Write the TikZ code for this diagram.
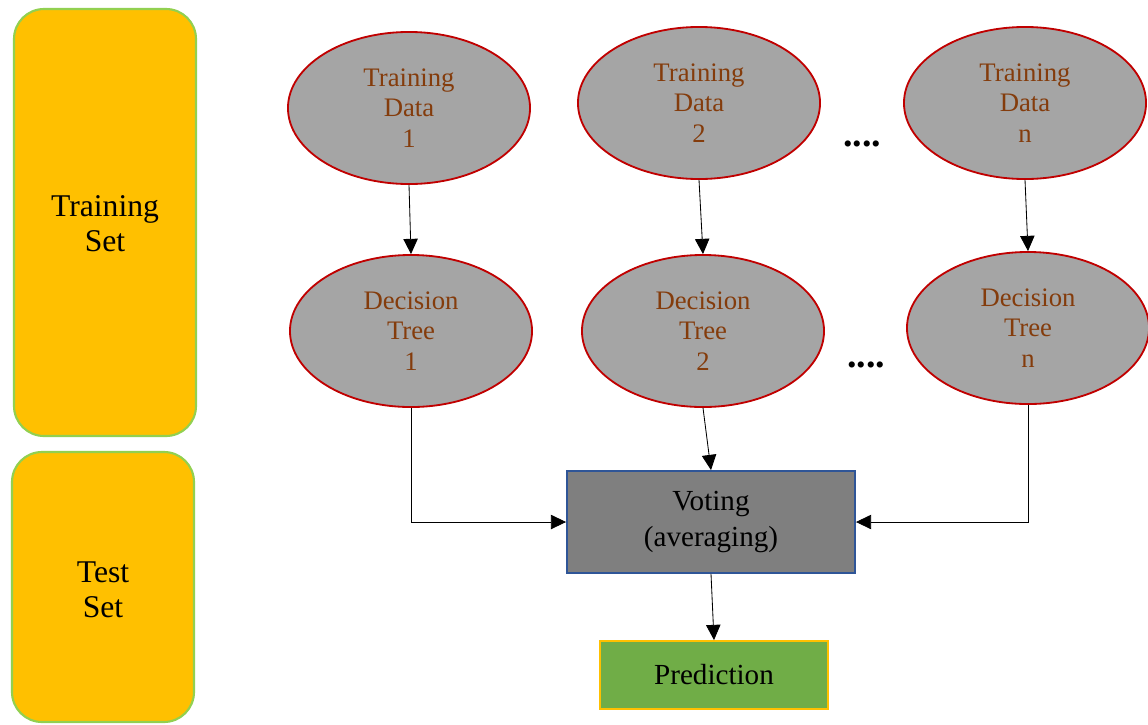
\documentclass[tikz,border=0pt]{standalone}
\usepackage{fontspec}
\setmainfont{Liberation Serif}
\usetikzlibrary{arrows.meta,shapes.geometric}
\definecolor{setfill}{HTML}{FFC000}
\definecolor{setline}{HTML}{92D050}
\definecolor{ellfill}{HTML}{A5A5A5}
\definecolor{ellline}{HTML}{C00000}
\definecolor{elltext}{HTML}{843C0C}
\definecolor{votefill}{HTML}{7F7F7F}
\definecolor{voteline}{HTML}{2F5597}
\definecolor{predfill}{HTML}{70AD47}

\begin{document}
\begin{tikzpicture}[x=0.025cm, y=-0.025cm,
    setbox/.style={draw=setline, fill=setfill, line width=1.5pt, rounded corners=0.75cm},
    settext/.style={align=center, font=\fontsize{22.5}{25}\selectfont},
    ell/.style={ellipse, draw=ellline, fill=ellfill, line width=1.3pt, minimum width=6.05cm,
      minimum height=3.8cm, align=center, text=elltext, font=\fontsize{19}{21.5}\selectfont},
    rbox/.style={rectangle, line width=1.3pt, align=center, font=\fontsize{20.7}{25.5}\selectfont},
    dots/.style={font=\fontsize{27}{30}\selectfont\bfseries},
    flow/.style={-{Triangle[length=0.38cm, width=0.36cm]}, line width=0.6pt}]
  \useasboundingbox (0,0) rectangle (1148,724);
  % left column
  \draw[setbox] (14,9) rectangle (196,436);
  \draw[setbox] (12,452) rectangle (194,722);
  \node[settext] (train) at (105,224) {Training\\Set};
  \node[settext] (test) at (103,590) {Test\\Set};
  % training data and trees
  \node[ell] (td1) at (409,108) {Training\\Data\\1};
  \node[ell] (td2) at (699,103) {Training\\Data\\2};
  \node[ell] (tdn) at (1025,103) {Training\\Data\\n};
  \node[ell] (dt1) at (411,331) {Decision\\Tree\\1};
  \node[ell] (dt2) at (703,331) {Decision\\Tree\\2};
  \node[ell] (dtn) at (1028,328) {Decision\\Tree\\n};
  \node[dots] (dotsa) at (862,144) {....};
  \node[dots] (dotsb) at (866,365) {....};
  % voting
  \node[rbox, draw=voteline, fill=votefill, minimum width=7.2cm, minimum height=2.55cm]
    (vote) at (711,522) {Voting\\(averaging)};
  \node[rbox, draw=setfill, fill=predfill, minimum width=5.7cm, minimum height=1.7cm]
    (pred) at (714,675) {Prediction};
  \coordinate (c1) at (dt1.south |- vote.west);
  \coordinate (cn) at (dtn.south |- vote.east);
  \draw[flow] (td1.south) -- (dt1.north);
  \draw[flow] (td2.south) -- (dt2.north);
  \draw[flow] (tdn.south) -- (dtn.north);
  \draw[flow] (dt1.south) -- (c1) -- (vote.west);
  \draw[flow] (dt2.south) -- (vote.north);
  \draw[flow] (dtn.south) -- (cn) -- (vote.east);
  \draw[flow] (vote.south) -- (pred.north);
\end{tikzpicture}
\end{document}
